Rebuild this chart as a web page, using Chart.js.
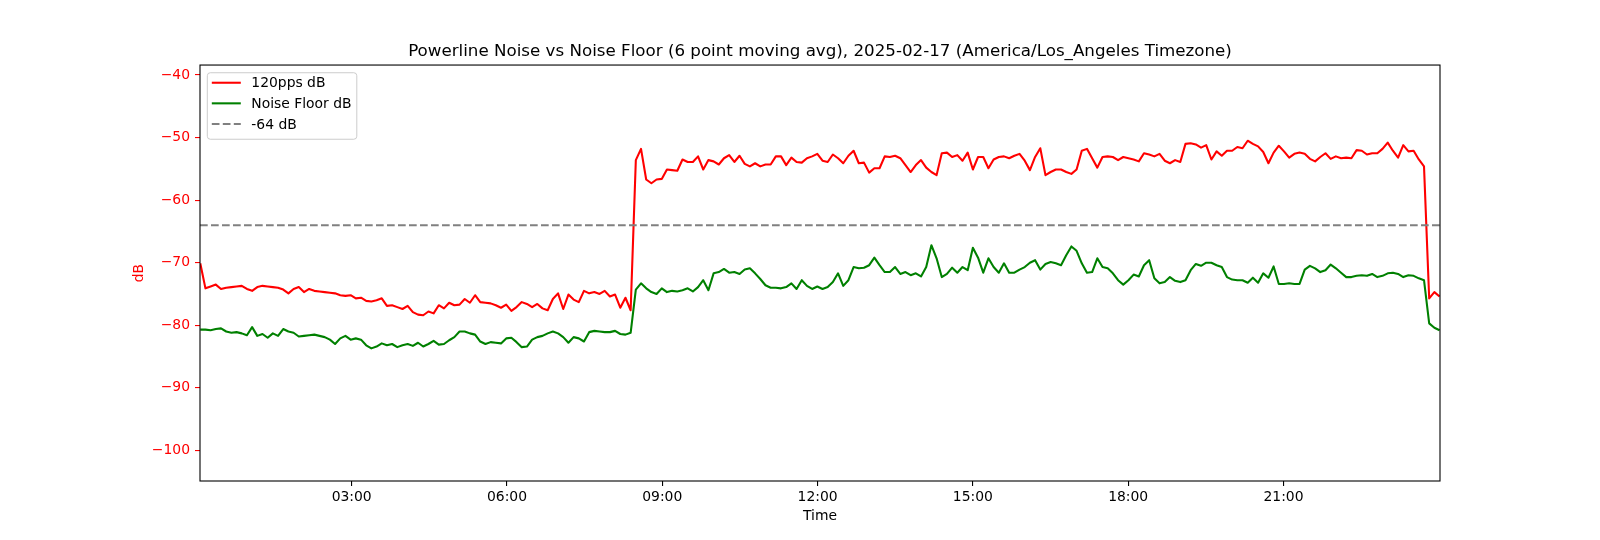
<!DOCTYPE html>
<html>
<head>
<meta charset="utf-8">
<title>Powerline Noise vs Noise Floor</title>
<script src="https://cdn.jsdelivr.net/npm/chart.js@4.4.1/dist/chart.umd.min.js"></script>
<style>
  html, body { margin: 0; padding: 0; background: #fff; }
  #wrap { width: 1600px; height: 540px; }
</style>
</head>
<body>
<div id="wrap"><canvas id="chart" width="1600" height="540"></canvas></div>
<script>
// samples are minutes after midnight, one every ~6 min
var startMin = 4.5;
var stepMin = 6.01;

var redDb = [
  -70.1, -74.1, -73.8, -73.5, -74.2, -74.0, -73.9, -73.8, -73.7, -74.2,
  -74.5, -73.9, -73.7, -73.8, -73.9, -74.0, -74.3, -74.9, -74.2, -73.9,
  -74.7, -74.2, -74.5, -74.6, -74.7, -74.8, -74.9, -75.2, -75.3, -75.2,
  -75.7, -75.6, -76.1, -76.2, -76.0, -75.7, -76.9, -76.8, -77.1, -77.4,
  -76.9, -77.9, -78.3, -78.4, -77.8, -78.1, -76.8, -77.3, -76.4, -76.8,
  -76.7, -75.8, -76.4, -75.2, -76.3, -76.4, -76.5, -76.8, -77.2, -76.7,
  -77.7, -77.1, -76.3, -76.6, -77.1, -76.6, -77.3, -77.6, -75.8, -74.9,
  -77.4, -75.1, -75.9, -76.3, -74.5, -74.9, -74.7, -75.0, -74.5, -75.4,
  -75.1, -77.2, -75.6, -77.6, -53.6, -51.8, -56.7, -57.3, -56.7, -56.6,
  -55.1, -55.2, -55.3, -53.5, -53.9, -53.9, -53.0, -55.1, -53.6, -53.8,
  -54.3, -53.3, -52.8, -53.9, -52.9, -54.2, -54.6, -54.1, -54.6, -54.3,
  -54.3, -53.0, -53.0, -54.4, -53.2, -53.9, -54.0, -53.3, -53.0, -52.6,
  -53.7, -53.9, -52.7, -53.3, -54.1, -52.9, -52.1, -54.1, -54.0, -55.6,
  -54.9, -54.9, -53.0, -53.1, -52.9, -53.3, -54.4, -55.5, -54.4, -53.6,
  -54.8, -55.5, -56.0, -52.5, -52.4, -53.1, -52.8, -53.7, -52.4, -55.1,
  -53.1, -53.1, -54.9, -53.5, -53.1, -53.0, -53.3, -52.9, -52.6, -53.7,
  -55.2, -53.1, -51.7, -56.0, -55.5, -55.1, -55.1, -55.5, -55.8, -55.1,
  -52.1, -51.8, -53.3, -54.8, -53.1, -53.0, -53.1, -53.6, -53.1, -53.3,
  -53.5, -53.8, -52.5, -52.7, -53.0, -52.6, -53.7, -54.1, -53.6, -53.9,
  -51.0, -50.9, -51.1, -51.6, -51.2, -53.5, -52.2, -52.9, -52.1, -52.1,
  -51.5, -51.7, -50.5, -51.0, -51.4, -52.3, -54.1, -52.4, -51.3, -52.2,
  -53.2, -52.6, -52.4, -52.6, -53.4, -53.8, -53.1, -52.5, -53.4, -53.0,
  -53.3, -53.2, -53.3, -52.0, -52.1, -52.7, -52.5, -52.5, -51.8, -50.8,
  -52.1, -53.2, -51.2, -52.2, -52.1, -53.5, -54.6, -75.7, -74.7, -75.4
];

var floorDb = [
  -80.7, -80.7, -80.8, -80.6, -80.5, -81.0, -81.2, -81.1, -81.3, -81.6,
  -80.3, -81.7, -81.4, -82.0, -81.3, -81.7, -80.6, -81.0, -81.2, -81.8,
  -81.7, -81.6, -81.5, -81.7, -81.9, -82.3, -83.0, -82.1, -81.7, -82.3,
  -82.1, -82.3, -83.2, -83.7, -83.4, -82.9, -83.2, -83.0, -83.5, -83.2,
  -83.0, -83.3, -82.8, -83.4, -83.0, -82.5, -83.1, -83.0, -82.4, -81.9,
  -81.0, -81.0, -81.3, -81.5, -82.6, -83.0, -82.7, -82.8, -82.9, -82.1,
  -82.0, -82.7, -83.5, -83.4, -82.3, -81.9, -81.7, -81.3, -81.0, -81.3,
  -81.9, -82.8, -81.9, -82.1, -82.6, -81.1, -80.9, -81.0, -81.1, -81.1,
  -80.9, -81.4, -81.5, -81.2, -74.3, -73.3, -74.1, -74.7, -75.0, -74.1,
  -74.7, -74.5, -74.6, -74.4, -74.1, -74.6, -73.9, -72.8, -74.4, -71.7,
  -71.5, -71.0, -71.6, -71.5, -71.8, -71.1, -70.9, -71.7, -72.6, -73.6,
  -74.0, -74.0, -74.1, -73.9, -73.3, -74.2, -72.8, -73.7, -74.2, -73.8,
  -74.2, -73.9, -73.1, -71.7, -73.7, -72.8, -70.7, -70.9, -70.8, -70.4,
  -69.2, -70.4, -71.5, -71.5, -70.7, -71.8, -71.5, -72.0, -71.7, -72.2,
  -70.7, -67.2, -69.3, -72.3, -71.8, -70.8, -71.6, -70.7, -71.2, -67.6,
  -69.2, -71.6, -69.3, -70.7, -71.6, -70.1, -71.6, -71.6, -71.1, -70.7,
  -70.0, -69.6, -71.1, -70.2, -69.9, -70.1, -70.4, -68.8, -67.4, -68.1,
  -70.1, -71.6, -71.5, -69.3, -70.7, -70.9, -71.7, -72.8, -73.5, -72.8,
  -71.9, -72.2, -70.4, -69.6, -72.5, -73.3, -73.1, -72.3, -72.9, -73.1,
  -72.8, -71.2, -70.2, -70.5, -70.0, -70.0, -70.4, -70.7, -72.3, -72.7,
  -72.8, -72.8, -73.2, -72.4, -73.2, -71.7, -72.4, -70.6, -73.4, -73.4,
  -73.3, -73.4, -73.4, -71.1, -70.5, -70.9, -71.5, -71.2, -70.3, -70.9,
  -71.6, -72.3, -72.3, -72.1, -72.0, -72.1, -71.8, -72.3, -72.1, -71.7,
  -71.6, -71.8, -72.3, -72.0, -72.1, -72.5, -72.8, -79.7, -80.4, -80.8
];

var thresholdDb = -64;
var xTickMins = [180, 360, 540, 720, 900, 1080, 1260];
var yTickVals = [-100, -90, -80, -70, -60, -50, -40];
var xRange = [4.2, 1441.4];
var yRange = [-104.9, -38.4];

var FONT = 'DejaVu Sans';

function toPoints(vals) {
    return vals.map(function (v, i) { return {x: startMin + i * stepMin, y: v}; });
}

function hhmm(m) {
    var h = Math.floor(m / 60), mm = Math.round(m % 60);
    return (h < 10 ? '0' : '') + h + ':' + (mm < 10 ? '0' : '') + mm;
}

// matplotlib-like axes frame and legend box inside the plot
var frameAndLegend = {
    id: 'frameAndLegend',
    afterDatasetsDraw: function (chart) {
        var ctx = chart.ctx, a = chart.chartArea;
        ctx.save();
        ctx.strokeStyle = '#000';
        ctx.lineWidth = 1.1;
        ctx.strokeRect(a.left, a.top, a.right - a.left, a.bottom - a.top);

        var x0 = a.left + 7.3, y0 = a.top + 7.7, w = 149.5, h = 66.5, r = 3;
        ctx.beginPath();
        ctx.moveTo(x0 + r, y0);
        ctx.arcTo(x0 + w, y0, x0 + w, y0 + h, r);
        ctx.arcTo(x0 + w, y0 + h, x0, y0 + h, r);
        ctx.arcTo(x0, y0 + h, x0, y0, r);
        ctx.arcTo(x0, y0, x0 + w, y0, r);
        ctx.closePath();
        ctx.fillStyle = 'rgba(255,255,255,0.8)';
        ctx.fill();
        ctx.strokeStyle = '#cccccc';
        ctx.lineWidth = 1;
        ctx.stroke();

        chart.data.datasets.forEach(function (ds, i) {
            var yy = y0 + 10 + i * 20.6;
            ctx.beginPath();
            ctx.setLineDash(ds.borderDash || []);
            ctx.strokeStyle = ds.borderColor;
            ctx.lineWidth = ds.borderWidth;
            ctx.moveTo(x0 + 4.5, yy);
            ctx.lineTo(x0 + 33.5, yy);
            ctx.stroke();
            ctx.setLineDash([]);
            ctx.fillStyle = '#000';
            ctx.font = '13.9px "' + FONT + '"';
            ctx.textBaseline = 'middle';
            ctx.textAlign = 'left';
            ctx.fillText(ds.label, x0 + 44, yy + 1);
        });
        ctx.restore();
    }
};

var ctx = document.getElementById('chart');
var myChart = new Chart(ctx, {
    type: 'line',
    data: {
        datasets: [{
                label: '120pps dB',
                data: toPoints(redDb),
                borderColor: '#ff0000',
                borderWidth: 2.08,
                order: 3
            },
            {
                label: 'Noise Floor dB',
                data: toPoints(floorDb),
                borderColor: '#008000',
                borderWidth: 2.08,
                order: 2
            },
            {
                label: '-64 dB',
                data: [{x: xRange[0], y: thresholdDb}, {x: xRange[1], y: thresholdDb}],
                borderColor: '#808080',
                borderWidth: 2.08,
                borderDash: [7.7, 3.3],
                order: 1
            }
        ]
    },
    options: {
        responsive: false,
        animation: false,
        devicePixelRatio: 1,
        layout: {padding: {left: 120, right: 160, top: 42, bottom: 0}},
        elements: {
            point: {radius: 0, hoverRadius: 0},
            line: {tension: 0, fill: false, borderJoinStyle: 'round'}
        },
        plugins: {
            legend: {display: false},
            tooltip: {enabled: false},
            title: {
                display: true,
                fullSize: false,
                text: 'Powerline Noise vs Noise Floor (6 point moving avg), 2025-02-17 (America/Los_Angeles Timezone)',
                color: '#000',
                font: {family: FONT, size: 16.7, weight: 'normal', lineHeight: 1.2},
                padding: {top: 0, bottom: 3}
            }
        },
        scales: {
            x: {
                type: 'linear',
                min: xRange[0],
                max: xRange[1],
                afterFit: function (s) { s.height = 59; },
                afterBuildTicks: function (s) {
                    s.ticks = xTickMins.map(function (v) { return {value: v}; });
                },
                border: {display: false},
                grid: {drawOnChartArea: false, drawTicks: true, tickLength: 5, color: '#000', lineWidth: 1.1},
                ticks: {
                    color: '#000', padding: 3, maxRotation: 0, autoSkip: false,
                    font: {family: FONT, size: 13.9},
                    callback: function (v) { return hhmm(v); }
                },
                title: {
                    display: true, text: 'Time', color: '#000',
                    font: {family: FONT, size: 13.9},
                    padding: {top: 0, bottom: 15}
                }
            },
            y: {
                type: 'linear',
                min: yRange[0],
                max: yRange[1],
                afterFit: function (s) { s.width = 80; },
                afterBuildTicks: function (s) {
                    s.ticks = yTickVals.map(function (v) { return {value: v}; });
                },
                border: {display: false},
                grid: {drawOnChartArea: false, drawTicks: true, tickLength: 5, color: '#ff0000', lineWidth: 1.1},
                ticks: {
                    color: '#ff0000', padding: 5, autoSkip: false,
                    font: {family: FONT, size: 13.9},
                    callback: function (v) { return v < 0 ? '\u2212' + Math.abs(v) : String(v); }
                },
                title: {
                    display: true, text: 'dB', color: '#ff0000',
                    font: {family: FONT, size: 13.9},
                    padding: {top: 11, bottom: 0}
                }
            }
        }
    },
    plugins: [frameAndLegend]
});
</script>
</body>
</html>
